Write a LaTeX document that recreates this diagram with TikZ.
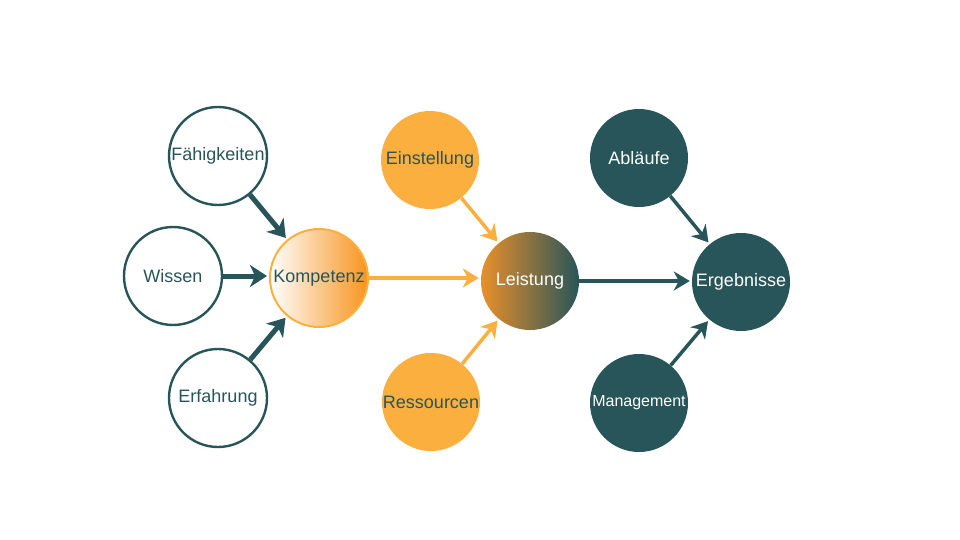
\documentclass[tikz,border=0pt]{standalone}
\usepackage{fontspec}
\setmainfont{Liberation Sans}
\usetikzlibrary{arrows.meta}
\definecolor{teal}{HTML}{285559}
\definecolor{orng}{HTML}{FBAF3F}
\definecolor{deeporng}{HTML}{F7941D}
\definecolor{lorng}{HTML}{E8902A}
\tikzset{
  circ/.style={circle, minimum size=98pt, inner sep=0pt, font=\fontsize{18}{21}\selectfont},
  outl/.style={circ, draw=teal, line width=2.4pt, fill=white, text=teal},
  ofill/.style={circ, fill=orng, text=teal},
  tfill/.style={circ, fill=teal, text=white},
  tarr/.style={draw=teal, line width=5pt, -{Stealth[length=17pt, width=22pt, inset=5pt]}},
  tharr/.style={draw=teal, line width=3.5pt, -{Stealth[length=16pt, width=19pt, inset=5pt]}},
  oarr/.style={draw=orng, line width=3.5pt, -{Stealth[length=16pt, width=19pt, inset=5pt]}},
}
\begin{document}
\begin{tikzpicture}[x=1pt, y=-1pt]
\useasboundingbox (0,0) rectangle (960,540);
\node[outl] (faeh) at (218,156) {Fähigkeiten};
\node[outl] (wiss) at (173,276) {Wissen};
\node[outl] (erf) at (218,398) {Erfahrung};
\node[circ, draw=orng, line width=2pt, left color=white, right color=deeporng, shading=axis, text=teal] (komp) at (319,278) {Kompetenz};
\node[ofill] (einst) at (430,160) {Einstellung};
\node[ofill] (ress) at (431,402) {Ressourcen};
\node[circ, left color=lorng, right color=teal, shading=axis, text=white] (leis) at (530,281) {Leistung};
\node[tfill] (abl) at (639,158) {Abläufe};
\node[tfill] (man) at (639,403) {\fontsize{16}{19}\selectfont Management};
\node[tfill] (erg) at (741,282) {Ergebnisse};
\draw[tarr, shorten >=2pt] (faeh) -- (komp);
\draw[tarr, shorten >=2pt] (wiss.east) -- (wiss.east -| komp.west);
\draw[tarr, shorten >=2pt] (erf) -- (komp);
\draw[oarr, shorten >=2pt] (einst) -- (leis);
\draw[oarr, shorten >=2pt] (ress) -- (leis);
\draw[oarr, shorten >=2pt] (komp.east) -- (leis.west |- komp.east);
\draw[tharr, shorten >=2pt] (leis.east) -- (erg.west |- leis.east);
\draw[tharr, shorten >=2pt] (abl) -- (erg);
\draw[tharr, shorten >=2pt] (man) -- (erg);
\end{tikzpicture}
\end{document}
